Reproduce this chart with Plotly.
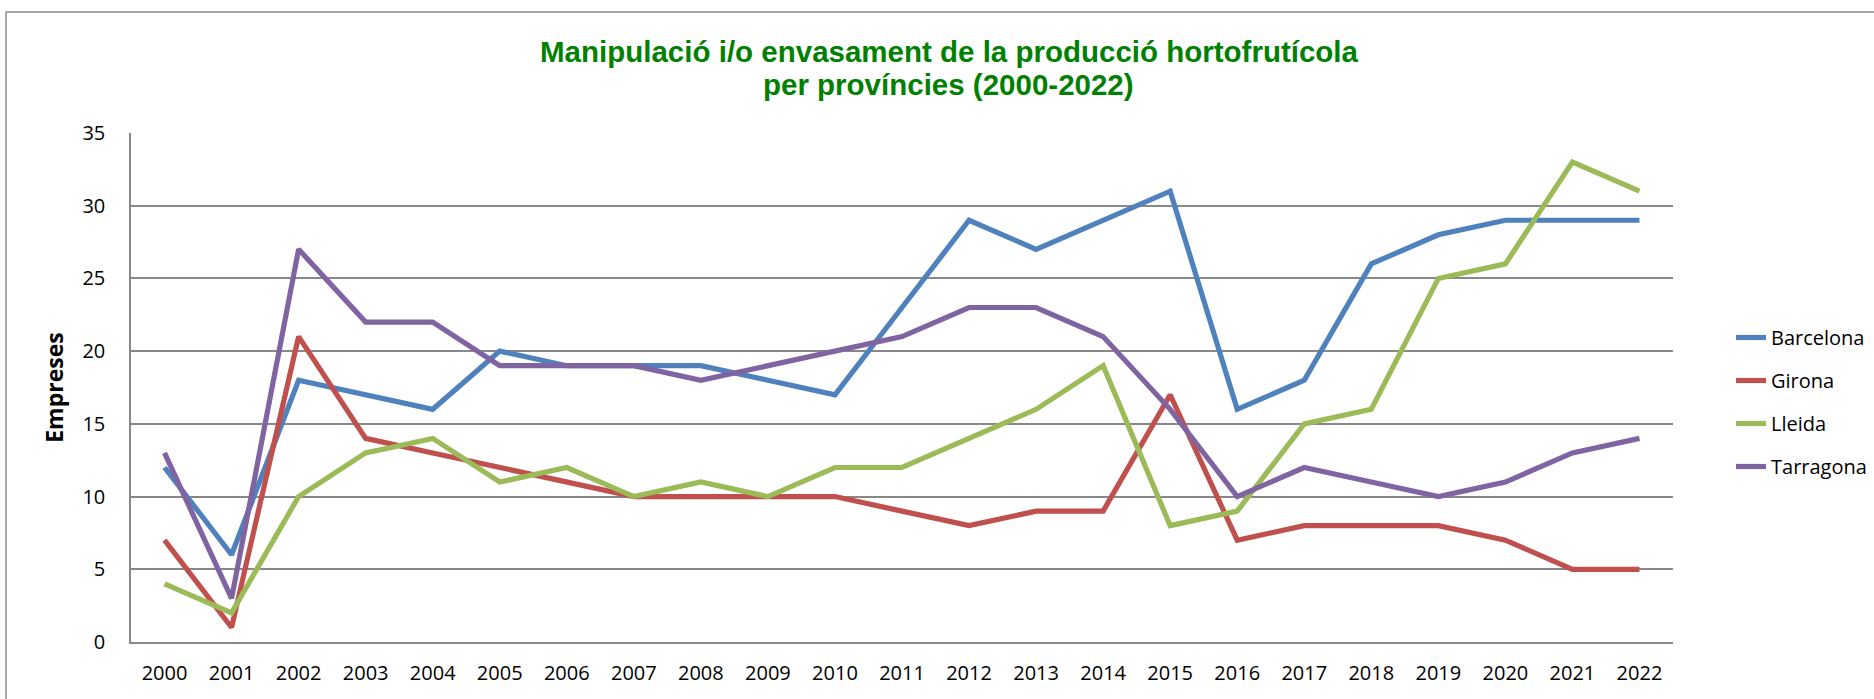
import plotly.graph_objects as go

years = [str(y) for y in range(2000, 2023)]
barcelona = [12, 6, 18, 17, 16, 20, 19, 19, 19, 18, 17, 23, 29, 27, 29, 31, 16, 18, 26, 28, 29, 29, 29]
girona = [7, 1, 21, 14, 13, 12, 11, 10, 10, 10, 10, 9, 8, 9, 9, 17, 7, 8, 8, 8, 7, 5, 5]
lleida = [4, 2, 10, 13, 14, 11, 12, 10, 11, 10, 12, 12, 14, 16, 19, 8, 9, 15, 16, 25, 26, 33, 31]
tarragona = [13, 3, 27, 22, 22, 19, 19, 19, 18, 19, 20, 21, 23, 23, 21, 16, 10, 12, 11, 10, 11, 13, 14]

series = [
    ("Barcelona", barcelona, "#4F81BD"),
    ("Girona", girona, "#C0504D"),
    ("Lleida", lleida, "#9BBB59"),
    ("Tarragona", tarragona, "#8064A2"),
]

title_line1 = "Manipulació i/o envasament de la producció hortofrutícola"
title_line2 = "per províncies (2000-2022)"

W, H = 1874, 699
L, R, T, B = 131, 201, 133, 57
pw, ph = W - L - R, H - T - B

fig = go.Figure()
for name, vals, col in series:
    fig.add_trace(go.Scatter(
        x=years, y=vals, name=name, mode="lines",
        line=dict(color=col, width=5.2),
        legendgroup=name,
    ))

grid = "#888888"
title_font = dict(family="Liberation Sans", size=29.5, color="#008000", weight="bold")
fig.update_layout(
    width=W, height=H,
    margin=dict(l=L, r=R, t=T, b=B, autoexpand=False),
    paper_bgcolor="white", plot_bgcolor="white",
    font=dict(family="Open Sans", size=20, color="black"),
    title=dict(
        text=title_line1, font=title_font,
        x=949 / W, xanchor="center",
        y=1 - 41 / H, yanchor="top",
    ),
    xaxis=dict(
        type="category", range=[-0.5, 22.5],
        showgrid=False, showline=True, linecolor=grid, linewidth=1.5,
        ticks="", ticklabelstandoff=12,
        tickfont=dict(family="Open Sans", size=20, color="black"),
    ),
    yaxis=dict(
        range=[0, 35], dtick=5, tick0=0,
        showgrid=True, gridcolor=grid, gridwidth=1.5,
        zeroline=True, zerolinecolor=grid, zerolinewidth=1.5,
        showline=True, linecolor=grid, linewidth=1.5,
        ticks="", ticklabelstandoff=20,
        tickfont=dict(family="Open Sans", size=20, color="black"),
        title=dict(text="Empreses", standoff=12,
                   font=dict(family="Open Sans", size=23, color="black", weight="bold")),
    ),
    legend=dict(
        x=(1731 - L) / pw, xanchor="left",
        y=(H - B - 318) / ph, yanchor="top",
        font=dict(family="Open Sans", size=20, color="black"),
        tracegroupgap=14, bgcolor="rgba(0,0,0,0)",
    ),
    showlegend=True,
)

fig.add_annotation(
    text=title_line2, font=title_font, showarrow=False,
    xref="paper", yref="paper",
    x=(948.5 - L) / pw, xanchor="center",
    y=(H - B - 66.5) / ph, yanchor="top",
)

fig.add_shape(
    type="rect", xref="paper", yref="paper",
    x0=(6 - L) / pw, x1=1.5, y0=-0.5, y1=(H - B - 12) / ph,
    line=dict(color="#8c8c8c", width=1.5), layer="below",
)

fig.write_html(
    "out.html",
    config={"displayModeBar": False},
    post_script="document.body.style.margin='0px';document.body.style.overflow='hidden';",
)
